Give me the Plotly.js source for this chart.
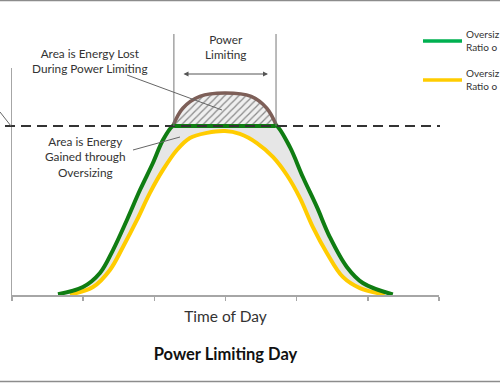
<!DOCTYPE html>
<html>
<head>
<meta charset="utf-8">
<script src="https://cdn.plot.ly/plotly-3.0.1.min.js"></script>
<style>html,body{margin:0;padding:0;background:#fff;}#chart{width:500px;height:383px;}</style>
</head>
<body>
<div id="chart"></div>
<script>
// ---- data (hours on a 0..6 scale, power with the inverter limit = 100) ----
var powerLimit = 100;
var tickHours = [0, 1, 2, 3, 4, 5, 6];

// Oversized array (ratio > 1), AC output clipped at the limit
var greenHours = [0.646, 0.997, 1.236, 1.419, 1.615, 1.798, 1.980, 2.121, 2.26, 2.30, 3.00, 3.68, 3.72, 3.904, 4.087, 4.284, 4.466, 4.705, 4.930, 5.351];
var greenPower = [0.5, 4.7, 13.0, 26.6, 44.4, 62.1, 78.1, 91.7, 100, 100, 100, 100, 100, 87.6, 69.8, 52.1, 34.3, 16.6, 7.1, 0.3];

// DC power available above the limit (lost to clipping)
var lostHours = [2.26, 2.40, 2.64, 2.99, 3.36, 3.58, 3.72];
var lostPower = [100, 110.5, 117.5, 119.5, 117.5, 110.5, 100];

// Array without oversizing
var yellowHours = [0.815, 1.138, 1.376, 1.559, 1.756, 1.938, 2.121, 2.317, 2.500, 2.739, 2.992, 3.202, 3.441, 3.666, 3.862, 4.045, 4.228, 4.424, 4.649, 4.888, 5.239];
var yellowPower = [0.3, 4.7, 14.8, 28.4, 44.4, 60.4, 74.0, 85.8, 92.9, 95.9, 97.0, 95.3, 89.9, 81.7, 71.0, 57.5, 40.2, 24.9, 10.7, 4.1, 0.3];

// legend labels as far as they are visible at the right edge of the picture
var legendNames = ['Oversiz<br>Ratio o', 'Oversiz<br>Ratio o'];

// ---- styling ----
var GREEN = '#0f7d12', GREEN_LEG = '#00b050', YELLOW = '#ffcc00', BROWN = '#7d5f58';
var TXT = '#333333', AXIS = '#a6a6a6';
var FONT = 'Lato, "Open Sans", sans-serif';

// layout geometry (pixels -> paper helpers)
var L = 12, R = 61, T = 68, B = 88, W = 500, H = 383;
var pw = W - L - R, ph = H - T - B;
function px(x) { return (x - L) / pw; }
function py(y) { return (H - B - y) / ph; }
var yMax = 134.3;
var limitPaper = powerLimit / yMax;

// flat segment used as the base of the hatched area
var flatHours = [lostHours[0], lostHours[lostHours.length - 1]];
var flatPower = [powerLimit, powerLimit];

var traces = [
  {x: flatHours, y: flatPower, mode: 'lines', line: {width: 0, color: 'rgba(0,0,0,0)'}, showlegend: false, hoverinfo: 'skip'},
  {x: lostHours, y: lostPower, mode: 'lines', line: {color: BROWN, width: 3.5, shape: 'spline', smoothing: 1},
   fill: 'tonexty', fillcolor: '#eeeeee',
   fillpattern: {shape: '/', fgcolor: '#8a8a8a', bgcolor: '#efefef', size: 5, solidity: 0.25},
   showlegend: false, hoverinfo: 'skip'},
  {x: yellowHours, y: yellowPower, mode: 'lines', line: {color: YELLOW, width: 4, shape: 'spline', smoothing: 1}, showlegend: false, hoverinfo: 'skip'},
  {x: greenHours, y: greenPower, mode: 'lines', line: {color: GREEN, width: 4, shape: 'spline', smoothing: 1},
   fill: 'tonexty', fillcolor: '#e6e6e6', showlegend: false, hoverinfo: 'skip'}
];

var lineGray = {color: '#666666', width: 1};
var shapes = [
  // border lines of the picture
  {type: 'line', xref: 'paper', yref: 'paper', x0: px(0), x1: px(500), y0: py(0.5), y1: py(0.5), line: {color: '#8c8c8c', width: 1.5}},
  {type: 'line', xref: 'paper', yref: 'paper', x0: px(0), x1: px(500), y0: py(381.5), y1: py(381.5), line: {color: '#8c8c8c', width: 1.5}},
  // power limit dashed line
  {type: 'line', xref: 'paper', yref: 'y', x0: px(5), x1: px(440), y0: powerLimit, y1: powerLimit, line: {color: '#333333', width: 2.2, dash: '10px,6px'}},
  // vertical markers of the limiting window
  {type: 'line', xref: 'x', yref: 'paper', x0: lostHours[0] + 0.015, x1: lostHours[0] + 0.015, y0: limitPaper, y1: py(34), line: {color: '#777777', width: 1}},
  {type: 'line', xref: 'x', yref: 'paper', x0: lostHours[lostHours.length - 1] - 0.01, x1: lostHours[lostHours.length - 1] - 0.01, y0: limitPaper, y1: py(34), line: {color: '#777777', width: 1}},
  // leader lines
  {type: 'line', xref: 'paper', yref: 'paper', x0: px(127), y0: py(75), x1: px(222), y1: py(110), line: lineGray},
  {type: 'line', xref: 'paper', yref: 'paper', x0: px(133), y0: py(150), x1: px(180), y1: py(137), line: lineGray},
  {type: 'line', xref: 'paper', yref: 'paper', x0: px(0), y0: py(112), x1: px(11), y1: py(126), line: lineGray},
  // legend samples
  {type: 'line', xref: 'paper', yref: 'paper', x0: px(423), x1: px(462), y0: py(41), y1: py(41), line: {color: GREEN_LEG, width: 3.5}},
  {type: 'line', xref: 'paper', yref: 'paper', x0: px(423), x1: px(462), y0: py(80), y1: py(80), line: {color: YELLOW, width: 3.5}}
];

var annFont = {family: FONT, size: 11.8, color: TXT};
var annotations = [
  {xref: 'paper', yref: 'paper', x: px(225), y: py(47), text: 'Power<br>Limiting', showarrow: false, font: annFont, align: 'center', xanchor: 'center', yanchor: 'middle'},
  {xref: 'paper', yref: 'paper', x: px(90), y: py(61), text: 'Area is Energy Lost<br>During Power Limiting', showarrow: false, font: annFont, align: 'center', xanchor: 'center', yanchor: 'middle'},
  {xref: 'paper', yref: 'paper', x: px(85.5), y: py(157), text: 'Area is Energy<br>Gained through<br>Oversizing', showarrow: false, font: annFont, align: 'center', xanchor: 'center', yanchor: 'middle'},
  // double arrow
  {xref: 'paper', yref: 'paper', x: px(268), y: py(74), ax: px(182), ay: py(74), axref: 'paper', ayref: 'paper', text: '', showarrow: true,
   arrowhead: 2, arrowside: 'end+start', arrowsize: 1, arrowwidth: 1, arrowcolor: '#555555'},
  // legend texts
  {xref: 'paper', yref: 'paper', x: px(464), y: py(40.5), text: legendNames[0], showarrow: false, font: {family: FONT, size: 10, color: TXT}, align: 'left', xanchor: 'left', yanchor: 'middle'},
  {xref: 'paper', yref: 'paper', x: px(464), y: py(79.5), text: legendNames[1], showarrow: false, font: {family: FONT, size: 10, color: TXT}, align: 'left', xanchor: 'left', yanchor: 'middle'}
];

var layout = {
  width: W, height: H,
  margin: {l: L, r: R, t: T, b: B, pad: 0},
  paper_bgcolor: '#ffffff', plot_bgcolor: '#ffffff',
  font: {family: FONT, color: TXT},
  showlegend: false,
  title: {text: '<b>Power Limiting Day</b>', font: {family: FONT, size: 16.5, color: '#111111'},
          xref: 'paper', x: 0.5, xanchor: 'center', yref: 'container', y: 1 - 354 / H, yanchor: 'middle'},
  xaxis: {range: [0, 6], tickvals: tickHours, showticklabels: false, ticks: 'outside', ticklen: 4, tickwidth: 1.5, tickcolor: AXIS,
          showline: true, linecolor: AXIS, linewidth: 1.5, showgrid: false, zeroline: false, fixedrange: true,
          title: {text: 'Time of Day', font: {family: FONT, size: 15.5, color: TXT}, standoff: 11}},
  yaxis: {range: [0, yMax], showticklabels: false, ticks: '', showline: true, linecolor: AXIS, linewidth: 1.5,
          showgrid: false, zeroline: false, fixedrange: true},
  shapes: shapes,
  annotations: annotations
};

Plotly.newPlot('chart', traces, layout, {displayModeBar: false, staticPlot: true});
</script>
</body>
</html>
